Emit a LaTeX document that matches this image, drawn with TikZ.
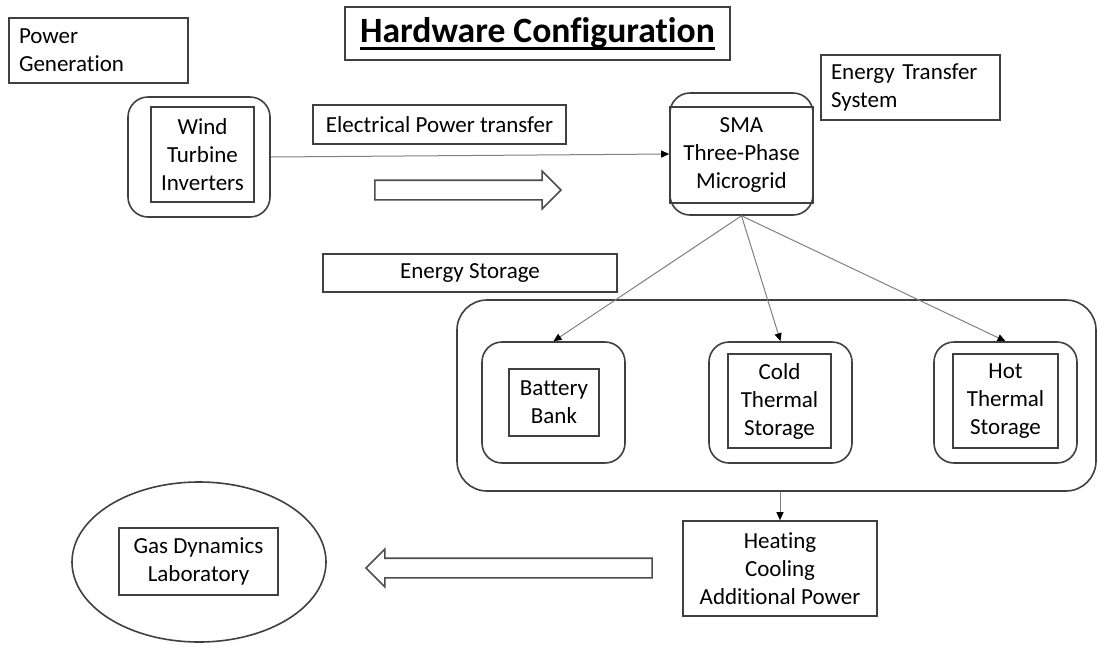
\documentclass[tikz,border=0pt]{standalone}
\usepackage{fontspec}
\setmainfont{Carlito}[Ligatures=NoCommon]
\newcommand{\thickul}[1]{\setbox0\hbox{#1}\rlap{\rule[-3.6pt]{\wd0}{1.4pt}}\box0}
\usetikzlibrary{shapes.geometric,shapes.arrows,arrows.meta}

\begin{document}
\begin{tikzpicture}[x=0.5pt,y=-0.5pt,
  font=\fontsize{11.5}{14}\selectfont,
  box/.style={draw=black!75, line width=0.8pt, align=center, inner sep=2pt},
  rbox/.style={box, rounded corners=10pt},
  note/.style={box, align=left, text width=79.5pt, inner xsep=5pt, minimum height=32.5pt},
  link/.style={draw=black!50, line width=0.5pt,
    -{Triangle[length=4pt,width=3.5pt,color=black,fill=black]}},
  fat/.style={single arrow, draw=black!70, line width=0.8pt, minimum width=18pt,
    single arrow head extend=4.5pt, single arrow head indent=0pt,
    inner xsep=0pt, inner ysep=4.5pt}]
  \useasboundingbox (0,0) rectangle (1098,644);

  % title and labels
  \node[box, minimum width=192.5pt, minimum height=26.5pt,
    font=\bfseries\fontsize{17.8}{20}\selectfont] (title) at (537.5,33.5) {\thickul{Hardware Configuration}};
  \node[note] (gen) at (98.5,50.5) {Power\\Generation};
  \node[note] (ets) at (910.5,87.5) {Energy Transfer\\System};
  \node[box, minimum width=126.5pt, minimum height=19.5pt] (elec) at (439.5,124.5) {Electrical Power transfer};
  \node[box, minimum width=147pt, minimum height=19pt] (storelbl) at (470,273) {Energy Storage};

  % power generation
  \node[rbox, minimum width=71pt, minimum height=60pt] (windout) at (199,157) {};
  \node[box, minimum width=51.5pt, minimum height=47.5pt] (wind) at (202.5,154.5) {Wind\\Turbine\\Inverters};

  % microgrid
  \node[rbox, minimum width=71.5pt, minimum height=61pt] (smaout) at (741.5,154) {};
  \node[box, minimum width=71.5pt, minimum height=48pt] (sma) at (741.5,155) {SMA\\Three-Phase\\Microgrid};

  % storage
  \node[box, rounded corners=15pt, minimum width=319.5pt, minimum height=95.5pt] (storage) at (776.5,395.5) {};
  \node[rbox, minimum width=71.5pt, minimum height=60.5pt] (battout) at (553.5,402.5) {};
  \node[box, minimum width=45pt, minimum height=33.5pt] (batt) at (554,402.5) {Battery\\Bank};
  \node[rbox, minimum width=71.5pt, minimum height=60.5pt] (coldout) at (780.5,402.5) {};
  \node[box, minimum width=51.5pt, minimum height=47pt] (cold) at (779.5,401) {Cold\\Thermal\\Storage};
  \node[rbox, minimum width=71.5pt, minimum height=60.5pt] (hotout) at (1005.5,402.5) {};
  \node[box, minimum width=52.5pt, minimum height=47pt] (hot) at (1005.5,401) {Hot\\Thermal\\Storage};

  % output
  \node[box, minimum width=97pt, minimum height=47.5pt] (heat) at (780,568.5) {Heating\\Cooling\\Additional Power};
  \node[ellipse, draw=black!75, line width=0.8pt, minimum width=127pt, minimum height=80pt] (labout) at (199,562) {};
  \node[box, minimum width=79.5pt, minimum height=33.5pt] (lab) at (198.5,561.5) {Gas Dynamics\\Laboratory};

  % block arrows
  \node[fat, minimum height=93pt] (toright) at (463,190) {};
  \node[fat, minimum height=143pt, shape border rotate=180] (toleft) at (514,568) {};

  \draw[link] (windout.east) -- (smaout.west);
  \draw[link] (smaout.south) -- (battout.north);
  \draw[link] (smaout.south) -- (coldout.north);
  \draw[link] (smaout.south) -- (hotout.north);
  \draw[link] (heat.north |- storage.south) -- (heat.north);
\end{tikzpicture}
\end{document}
